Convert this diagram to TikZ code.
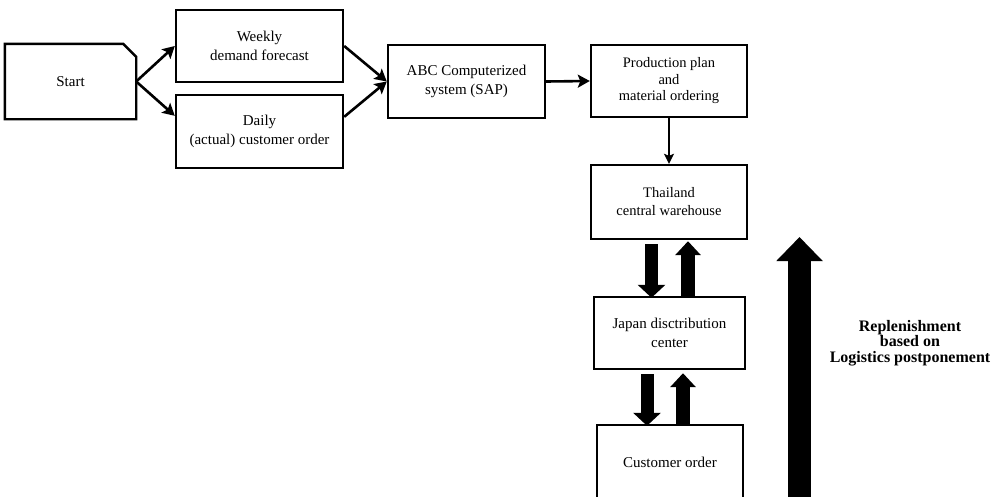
\documentclass[tikz,border=0pt]{standalone}
\usepackage{fontspec}
\setmainfont{Liberation Serif}
\usetikzlibrary{arrows.meta}
\begin{document}
\begin{tikzpicture}[x=1pt,y=-1pt,
  box/.style={draw, line width=2.4pt, inner sep=0pt, align=center,
    font=\fontsize{15}{18.5}\selectfont},
  flow/.style={line width=2.6pt, -{Stealth[length=12pt,width=13pt,inset=2.5pt]}},
  thinflow/.style={line width=1.6pt, -{Stealth[length=10pt,width=10pt,inset=2pt]}},
  blockdown/.style={line width=13pt, -{Triangle[length=13pt,width=27pt]}},
  blockup/.style={line width=14pt, -{Triangle[length=14pt,width=25pt]}}]
\useasboundingbox (0,0) rectangle (998,496);
\clip (0,0) rectangle (998,496);
\fill[white] (0,0) rectangle (998,496);

% start block with its cut-off corner drawn separately
\node (start) [box, draw=none, minimum width=129pt, minimum height=73pt] at (70.5,81.5) {Start};
\draw[line width=2.4pt, line join=miter]
  (start.south west) -- (start.north west) -- ([xshift=-13pt]start.north east)
  -- ([yshift=-13pt]start.north east) -- (start.south east) -- cycle;

\node (weekly) [box, minimum width=167pt, minimum height=72pt] at (259.5,46) {Weekly\\demand forecast};
\node (daily) [box, minimum width=167pt, minimum height=73pt] at (259.5,131.5) {Daily\\(actual) customer order};
\node (abc) [box, minimum width=157pt, minimum height=73pt] at (466.5,81.5) {ABC Computerized\\system (SAP)};
\node (prod) [box, minimum width=156pt, minimum height=72pt,
  font=\fontsize{14.5}{16.5}\selectfont] at (669,81) {Production plan\\and\\material ordering};
\node (thai) [box, minimum width=156pt, minimum height=74pt,
  font=\fontsize{14.5}{18}\selectfont] at (669,202) {Thailand\\central warehouse};
\node (japan) [box, minimum width=151pt, minimum height=72pt] at (669.5,333) {Japan disctribution\\center};
\node (cust) [box, minimum width=146pt, minimum height=74pt] at (670,462) {Customer order};

% information flow
\draw[flow] (start.east) -- (weekly.west);
\draw[flow] (start.east) -- ([yshift=-22pt]daily.north west);
\draw[flow] (weekly.east) -- (abc.west);
\draw[flow] ([yshift=-23pt]daily.north east) -- (abc.west);
\draw[flow] (abc.east) -- (prod.west);
\draw[thinflow] (prod.south) -- (thai.north);

% physical flows between the stock points
\draw[blockdown] ([xshift=-17.5pt,yshift=-4pt]thai.south) -- ([xshift=-18pt,yshift=-2pt]japan.north);
\draw[blockup] ([xshift=18.5pt]japan.north) -- ([xshift=19pt,yshift=-1pt]thai.south);
\draw[blockdown] ([xshift=-22.5pt,yshift=-4pt]japan.south) -- ([xshift=-23pt,yshift=-2pt]cust.north);
\draw[blockup] ([xshift=13pt]cust.north) -- ([xshift=13.5pt,yshift=-3pt]japan.south);

% replenishment arrow
\coordinate (rbottom) at (799.5,505);
\coordinate (rtop) at (799.5,237);
\draw[line width=23pt, -{Triangle[length=24pt,width=45pt]}] (rbottom) -- (rtop);
\node (repl) [align=center, font=\bfseries\fontsize{16}{15.5}\selectfont] at (910,343)
  {Replenishment\\based on\\Logistics postponement};
\end{tikzpicture}
\end{document}
